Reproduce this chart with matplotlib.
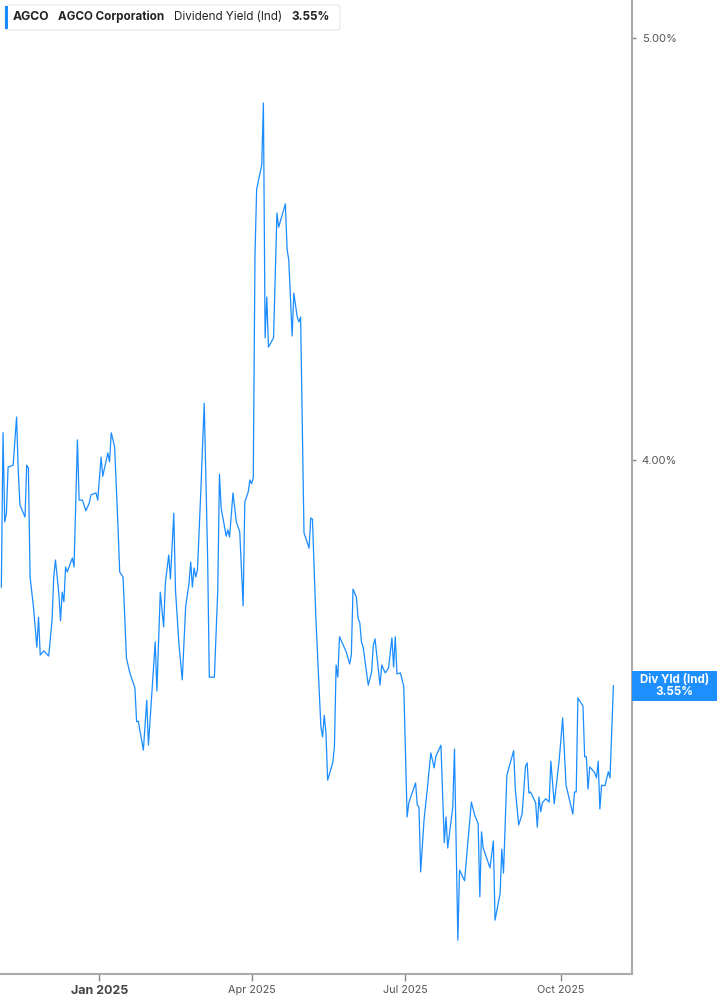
import matplotlib
matplotlib.use("Agg")
import matplotlib.pyplot as plt
import matplotlib.dates as mdates
from matplotlib.patches import Rectangle, FancyBboxPatch
import pandas as pd

plt.rcParams['font.family'] = ['Inter', 'DejaVu Sans']

# dividend yield (ind), %
dates = [
    '2024-11-04', '2024-11-05', '2024-11-06', '2024-11-07', '2024-11-08', '2024-11-11',
    '2024-11-13', '2024-11-14', '2024-11-15', '2024-11-18', '2024-11-19', '2024-11-20',
    '2024-11-21', '2024-11-23', '2024-11-25', '2024-11-26', '2024-11-27', '2024-11-29',
    '2024-12-02', '2024-12-04', '2024-12-05', '2024-12-06', '2024-12-08', '2024-12-09',
    '2024-12-10', '2024-12-11', '2024-12-12', '2024-12-13', '2024-12-16', '2024-12-17',
    '2024-12-19', '2024-12-20', '2024-12-22', '2024-12-24', '2024-12-26', '2024-12-27',
    '2024-12-30', '2024-12-31', '2025-01-02', '2025-01-03', '2025-01-06', '2025-01-07',
    '2025-01-08', '2025-01-10', '2025-01-12', '2025-01-13', '2025-01-15', '2025-01-17',
    '2025-01-19', '2025-01-22', '2025-01-23', '2025-01-24', '2025-01-27', '2025-01-29',
    '2025-01-30', '2025-02-01', '2025-02-03', '2025-02-04', '2025-02-06', '2025-02-08',
    '2025-02-09', '2025-02-11', '2025-02-12', '2025-02-14', '2025-02-15', '2025-02-17',
    '2025-02-19', '2025-02-21', '2025-02-23', '2025-02-24', '2025-02-25', '2025-02-26',
    '2025-02-27', '2025-02-28', '2025-03-02', '2025-03-04', '2025-03-06', '2025-03-07',
    '2025-03-10', '2025-03-12', '2025-03-13', '2025-03-14', '2025-03-17', '2025-03-18',
    '2025-03-19', '2025-03-21', '2025-03-23', '2025-03-25', '2025-03-27', '2025-03-28',
    '2025-03-30', '2025-03-31', '2025-04-01', '2025-04-02', '2025-04-03', '2025-04-04',
    '2025-04-07', '2025-04-08', '2025-04-09', '2025-04-10', '2025-04-11', '2025-04-14',
    '2025-04-16', '2025-04-17', '2025-04-21', '2025-04-22', '2025-04-23', '2025-04-25',
    '2025-04-26', '2025-04-28', '2025-04-29', '2025-04-30', '2025-05-02', '2025-05-05',
    '2025-05-06', '2025-05-07', '2025-05-09', '2025-05-12', '2025-05-13', '2025-05-14',
    '2025-05-15', '2025-05-16', '2025-05-19', '2025-05-20', '2025-05-21', '2025-05-22',
    '2025-05-23', '2025-05-27', '2025-05-29', '2025-05-30', '2025-05-31', '2025-06-02',
    '2025-06-03', '2025-06-04', '2025-06-05', '2025-06-06', '2025-06-09', '2025-06-11',
    '2025-06-12', '2025-06-13', '2025-06-16', '2025-06-17', '2025-06-19', '2025-06-21',
    '2025-06-23', '2025-06-24', '2025-06-25', '2025-06-26', '2025-06-28', '2025-06-30',
    '2025-07-02', '2025-07-03', '2025-07-07', '2025-07-08', '2025-07-09', '2025-07-10',
    '2025-07-12', '2025-07-14', '2025-07-16', '2025-07-18', '2025-07-19', '2025-07-22',
    '2025-07-24', '2025-07-25', '2025-07-26', '2025-07-29', '2025-07-30', '2025-08-01',
    '2025-08-02', '2025-08-05', '2025-08-06', '2025-08-09', '2025-08-11', '2025-08-13',
    '2025-08-14', '2025-08-15', '2025-08-16', '2025-08-20', '2025-08-22', '2025-08-23',
    '2025-08-26', '2025-08-27', '2025-08-28', '2025-08-30', '2025-09-03', '2025-09-04',
    '2025-09-06', '2025-09-08', '2025-09-10', '2025-09-11', '2025-09-12', '2025-09-13',
    '2025-09-16', '2025-09-17', '2025-09-18', '2025-09-19', '2025-09-20', '2025-09-22',
    '2025-09-24', '2025-09-25', '2025-09-27', '2025-09-30', '2025-10-02', '2025-10-04',
    '2025-10-08', '2025-10-09', '2025-10-10', '2025-10-11', '2025-10-14', '2025-10-15',
    '2025-10-16', '2025-10-17', '2025-10-18', '2025-10-21', '2025-10-22', '2025-10-23',
    '2025-10-24', '2025-10-25', '2025-10-27', '2025-10-29', '2025-10-30', '2025-11-01',
]
values = [
    3.740, 4.058, 3.871, 3.889, 3.985, 3.989,
    4.092, 3.979, 3.906, 3.881, 3.989, 3.983,
    3.760, 3.701, 3.623, 3.681, 3.608, 3.616,
    3.606, 3.675, 3.760, 3.794, 3.728, 3.674,
    3.730, 3.711, 3.780, 3.770, 3.798, 3.780,
    4.043, 3.916, 3.916, 3.894, 3.910, 3.927,
    3.931, 3.916, 4.006, 3.966, 4.015, 3.996,
    4.058, 4.028, 3.861, 3.770, 3.760, 3.602,
    3.574, 3.546, 3.483, 3.484, 3.431, 3.523,
    3.440, 3.536, 3.633, 3.540, 3.730, 3.662,
    3.748, 3.804, 3.756, 3.889, 3.734, 3.631,
    3.561, 3.701, 3.748, 3.790, 3.740, 3.778,
    3.760, 3.774, 3.937, 4.122, 3.800, 3.566,
    3.566, 3.734, 3.970, 3.900, 3.842, 3.855,
    3.840, 3.931, 3.871, 3.851, 3.703, 3.912,
    3.933, 3.958, 3.950, 3.962, 4.453, 4.616,
    4.675, 4.831, 4.267, 4.360, 4.246, 4.267,
    4.558, 4.524, 4.580, 4.472, 4.446, 4.271,
    4.369, 4.314, 4.303, 4.314, 3.849, 3.818,
    3.879, 3.877, 3.681, 3.473, 3.455, 3.495,
    3.462, 3.377, 3.408, 3.437, 3.589, 3.566,
    3.643, 3.614, 3.591, 3.608, 3.736, 3.720,
    3.679, 3.670, 3.633, 3.623, 3.551, 3.576,
    3.627, 3.639, 3.551, 3.589, 3.574, 3.583,
    3.641, 3.585, 3.643, 3.572, 3.574, 3.549,
    3.312, 3.337, 3.372, 3.333, 3.329, 3.217,
    3.307, 3.363, 3.426, 3.399, 3.420, 3.440,
    3.267, 3.312, 3.258, 3.329, 3.433, 3.103,
    3.220, 3.202, 3.237, 3.338, 3.315, 3.300,
    3.175, 3.286, 3.258, 3.224, 3.270, 3.136,
    3.181, 3.256, 3.215, 3.386, 3.430, 3.360,
    3.298, 3.317, 3.402, 3.408, 3.354, 3.356,
    3.337, 3.294, 3.347, 3.321, 3.337, 3.344,
    3.338, 3.411, 3.335, 3.415, 3.490, 3.368,
    3.317, 3.356, 3.356, 3.527, 3.512, 3.419,
    3.419, 3.361, 3.401, 3.390, 3.381, 3.411,
    3.326, 3.368, 3.367, 3.392, 3.381, 3.550,
]

tick_dates = ['2025-01-01', '2025-04-01', '2025-07-01', '2025-10-01']
tick_labels = ['Jan 2025', 'Apr 2025', 'Jul 2025', 'Oct 2025']
y_ticks = [4.0, 5.0]

ticker = 'AGCO'
company = 'AGCO Corporation'
metric = 'Dividend Yield (Ind)'
short_metric = 'Div Yld (Ind)'

line_color = '#1a8cff'
W, H = 717, 1005

x = pd.to_datetime(dates)

fig = plt.figure(figsize=(W / 100, H / 100), dpi=100)
ax = fig.add_axes([0, 1 - 974 / H, 632 / W, 974 / H])

ax.plot(x, values, color=line_color, linewidth=0.9)

ax.set_yscale('log')
ax.set_ylim(3.048, 5.1015)
ax.set_xlim(pd.Timestamp('2024-11-03 05:00'), pd.Timestamp('2025-11-12'))

ax.yaxis.tick_right()
ax.set_yticks(y_ticks)
ax.set_yticklabels([f'{v:.2f}%' for v in y_ticks])
ax.yaxis.set_minor_locator(matplotlib.ticker.NullLocator())
ax.tick_params(axis='y', length=3, width=1, color='#888888', labelsize=8,
               labelcolor='#555555', pad=4)

ax.set_xticks(pd.to_datetime(tick_dates))
ax.set_xticklabels(tick_labels)
ax.tick_params(axis='x', length=5, width=1, color='#888888', labelsize=7.8,
               labelcolor='#555555', pad=3)
lbl = ax.get_xticklabels()[0]
lbl.set_fontweight('bold')
lbl.set_fontsize(9)
lbl.set_color('#444444')

for s in ['left', 'top']:
    ax.spines[s].set_visible(False)
for s in ['right', 'bottom']:
    ax.spines[s].set_color('#aaaaaa')
    ax.spines[s].set_linewidth(1.5)

# last value label on the right axis
fig.canvas.draw()
yd = ax.transData.transform((mdates.date2num(x[-1]), values[-1]))[1]
fig.patches.append(Rectangle((632 / W, (yd - 15) / H), 85 / W, 30 / H,
                             transform=fig.transFigure, facecolor='#1e8fff',
                             edgecolor='none'))
fig.text(674.5 / W, yd / H, f'{short_metric}\n{values[-1]:.2f}%', ha='center',
         va='center', color='white', fontsize=8.3, fontweight='bold', linespacing=1.0)

# header legend
fig.patches.append(FancyBboxPatch((5 / W, 1 - 30 / H), 335 / W, 25 / H,
                                  boxstyle='round,pad=0,rounding_size=0.004',
                                  transform=fig.transFigure, facecolor='white',
                                  edgecolor='#e6e6e6', linewidth=0.8))
fig.patches.append(Rectangle((5 / W, 1 - 29 / H), 3 / W, 23 / H,
                             transform=fig.transFigure, facecolor=line_color,
                             edgecolor='none'))
hy = 1 - 16.5 / H
fig.text(13 / W, hy, ticker, fontsize=8.8, fontweight='bold', color='#222222', va='center')
fig.text(58 / W, hy, company, fontsize=8.4, fontweight='bold', color='#222222', va='center')
fig.text(174 / W, hy, metric, fontsize=8.4, color='#222222', va='center')
fig.text(291 / W, hy, f'{values[-1]:.2f}%', fontsize=8.4, fontweight='bold',
         color='#222222', va='center')

fig.savefig('out.png', dpi=100)
